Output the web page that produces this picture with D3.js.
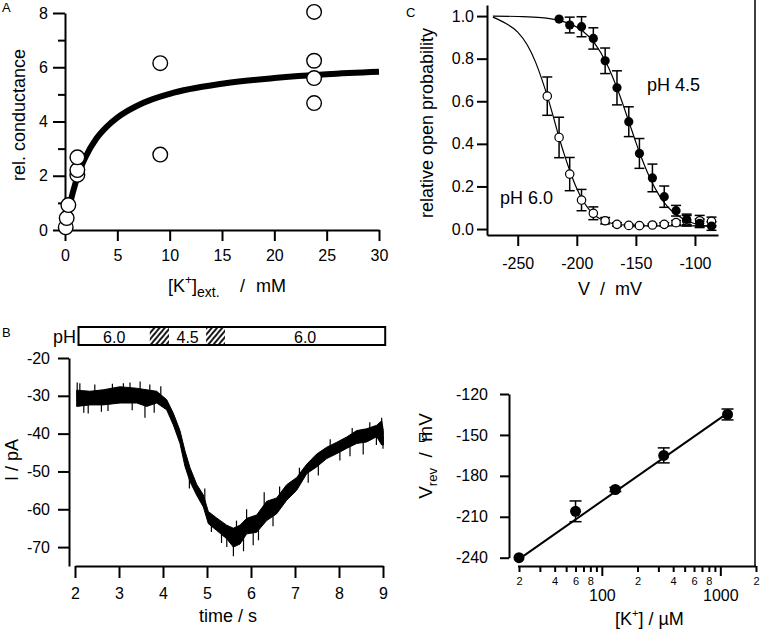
<!DOCTYPE html>
<html><head><meta charset="utf-8">
<script src="https://cdn.jsdelivr.net/npm/d3@7"></script>
<style>
body{margin:0;background:#fff;}
svg{display:block;font-family:"Liberation Sans",Arial,Helvetica,sans-serif;}
</style></head><body>
<svg id="fig" width="760" height="629"></svg>
<script>
// ---------- Panel A: relative conductance vs [K+]ext ----------
const aConc = [0.07, 0.16, 0.32, 1.18, 1.18, 1.18, 9.1, 9.1, 23.8, 23.8, 23.8, 23.8];
const aCond = [0.1, 0.44, 0.92, 2.03, 2.21, 2.68, 6.15, 2.78, 8.04, 6.24, 5.6, 4.68];
const aFitConc = [0, 0.25, 0.5, 1, 1.5, 2, 3, 4, 5, 7.5, 10, 15, 20, 25, 30];
const aFitCond = [0, 0.55, 1.0, 1.73, 2.29, 2.72, 3.37, 3.81, 4.14, 4.69, 5.02, 5.39, 5.60, 5.74, 5.83];
const aXTicks = [0, 5, 10, 15, 20, 25, 30];
const aYTicks = [0, 2, 4, 6, 8];
const aYMinor = [1, 3, 5, 7];

// ---------- Panel C: relative open probability vs V ----------
const cVolt = [-225, -215, -206, -196, -186, -176, -166, -156, -147, -136, -126, -116, -107, -96, -86];
const cP60  = [0.624, 0.43, 0.258, 0.136, 0.074, 0.039, 0.022, 0.017, 0.016, 0.019, 0.022, 0.03, 0.039, 0.039, 0.036];
const cE60  = [0.09, 0.095, 0.078, 0.05, 0.03, 0.015, 0.008, 0.005, 0.005, 0.005, 0.008, 0.01, 0.025, 0.025, 0.02];
const cP45  = [null, 0.986, 0.958, 0.95, 0.895, 0.79, 0.663, 0.504, 0.355, 0.24, 0.152, 0.086, 0.045, 0.027, 0.014];
const cE45  = [null, 0, 0.037, 0.047, 0.05, 0.06, 0.08, 0.07, 0.07, 0.065, 0.05, 0.025, 0.025, 0.02, 0.02];
const cFit60V = [-271, -260, -250, -242, -235, -230, -225, -220, -215, -210, -205, -200, -195, -190, -185, -180, -175, -170, -160, -150, -130, -110, -82];
const cFit60P = [0.995, 0.965, 0.925, 0.865, 0.785, 0.71, 0.625, 0.53, 0.43, 0.34, 0.26, 0.19, 0.135, 0.095, 0.066, 0.047, 0.034, 0.026, 0.019, 0.016, 0.015, 0.015, 0.015];
const cFit45V = [-271, -250, -230, -215, -205, -195, -185, -175, -165, -160, -155, -150, -145, -140, -135, -130, -125, -120, -110, -100, -90, -82];
const cFit45P = [1.0, 0.998, 0.993, 0.98, 0.962, 0.93, 0.873, 0.78, 0.648, 0.57, 0.489, 0.407, 0.331, 0.263, 0.204, 0.156, 0.117, 0.087, 0.047, 0.025, 0.013, 0.008];
const cXTicks = [-250, -200, -150, -100];
const cYTicks = [0, 0.2, 0.4, 0.6, 0.8, 1.0];

// ---------- Panel B: current trace ----------
const bTime  = [2.038, 2.341, 2.644, 3.023, 3.402, 3.629, 3.856, 4.083, 4.235, 4.386, 4.5, 4.614, 4.765, 4.917, 5.030, 5.220, 5.447, 5.598, 5.75, 5.902, 6.129, 6.356, 6.583, 6.811, 7.038, 7.265, 7.492, 7.720, 7.947, 8.174, 8.402, 8.629, 8.856, 8.970, 9.008];
const bUpper = [-28.5, -28.8, -28.4, -27.6, -28.0, -28.4, -28.8, -31.0, -34.6, -39.2, -44.6, -49.0, -53.4, -56.2, -60.6, -62.3, -64.2, -65.0, -64.2, -62.4, -61.5, -57.9, -57.0, -53.5, -51.6, -48.1, -45.4, -43.6, -42.3, -40.9, -39.2, -38.7, -37.8, -36.6, -39.2];
const bLower = [-32.8, -32.4, -32.4, -31.9, -31.9, -32.8, -31.9, -33.7, -37.7, -42.6, -48.7, -52.7, -56.3, -59.4, -63.8, -65.6, -67.8, -70.0, -69.2, -66.5, -66.1, -63.0, -61.2, -57.6, -55.0, -50.6, -48.8, -46.6, -45.3, -43.9, -42.6, -42.2, -40.8, -43.0, -43.0];
const bSpikeT = [2.05, 2.11, 2.2, 2.30, 2.45, 2.6, 2.75, 2.85, 3.1, 3.25, 3.3, 3.48, 3.59, 3.7, 3.8, 3.95, 4.6, 4.95, 5.1, 5.33, 5.45, 5.60, 5.67, 5.83, 5.9, 6.05, 6.17, 6.3, 6.5, 6.65, 7.1, 7.3, 7.53, 7.8, 8.02, 8.25, 8.3, 8.55, 8.7, 8.85, 8.97, 9.0];
const bSpikeI = [-26.5, -26.7, -34.5, -34.7, -27.0, -34.2, -34.0, -26.8, -26.7, -26.5, -33.8, -26.2, -35.8, -27.0, -34.5, -27.5, -54.5, -54.5, -66.0, -68.9, -70.0, -72.4, -63.0, -71.1, -60.0, -69.5, -68.2, -55.5, -64.5, -54.0, -49.0, -53.0, -51.1, -41.5, -47.1, -46.0, -38.5, -45.5, -37.0, -43.0, -35.8, -44.0];
const bSegStart = [2.08, 3.7, 4.14, 4.98, 5.41];
const bSegEnd   = [3.7, 4.14, 4.98, 5.41, 9.05];
const bSegLabel = ["6.0", "", "4.5", "", "6.0"];
const bSegHatch = [false, true, false, true, false];
const bXTicks = [2, 3, 4, 5, 6, 7, 8, 9];
const bYTicks = [-70, -60, -50, -40, -30, -20];

// ---------- Panel D: reversal potential vs [K+] ----------
const dConc = [20, 60, 130, 333, 1150];
const dVrev = [-240, -206, -190, -165, -135];
const dErr  = [0, 7.6, 1.5, 5.5, 4];
const dFitConc = [20, 1150];
const dFitV = [-241, -134];
const dXTicks = [20, 30, 40, 50, 60, 70, 80, 90, 100, 200, 300, 400, 500, 600, 700, 800, 900, 1000, 2000];
const dXLabels = ["2", "", "4", "", "6", "", "8", "", "100", "2", "", "4", "", "6", "", "8", "", "1000", "2"];
const dYTicks = [-240, -210, -180, -150, -120];

// =====================================================
const svg = d3.select("#fig");
const FT = 16, FTITLE = 18, FLET = 13;
const AX = 2;
const plain = (d) => String(d);   // hyphen-minus, like the original

function styleAxis(g, sw) {
  g.attr("font-family", null).attr("font-size", FT);
  g.select(".domain").attr("stroke", "#000").attr("stroke-width", sw);
  g.selectAll(".tick line").attr("stroke", "#000").attr("stroke-width", sw);
  g.selectAll(".tick text").attr("fill", "#000");
}

const defs = svg.append("defs");
const pat = defs.append("pattern").attr("id", "hatch").attr("patternUnits", "userSpaceOnUse")
  .attr("width", 4).attr("height", 4).attr("patternTransform", "rotate(40)");
pat.append("line").attr("x1", 1).attr("y1", 0).attr("x2", 1).attr("y2", 4).attr("stroke", "#000").attr("stroke-width", 1.8);

// ---------------- Panel A ----------------
{
  const x = d3.scaleLinear([0, 30], [65, 379]);
  const y = d3.scaleLinear([0, 8], [230, 13]);
  const g = svg.append("g");
  const ya = g.append("g").attr("transform", "translate(65,0)")
    .call(d3.axisLeft(y).tickValues(aYTicks).tickFormat(plain).tickSize(12).tickPadding(5).tickSizeOuter(0));
  styleAxis(ya, AX);
  const ym = g.append("g").attr("transform", "translate(65,0)")
    .call(d3.axisLeft(y).tickValues(aYMinor).tickSize(7).tickFormat("").tickSizeOuter(0));
  styleAxis(ym, AX); ym.select(".domain").remove();
  const xa = g.append("g").attr("transform", "translate(0,230)")
    .call(d3.axisBottom(x).tickValues(aXTicks).tickFormat(plain).tickSize(11).tickPadding(9).tickSizeOuter(0));
  styleAxis(xa, AX);

  const line = d3.line().x((d, i) => x(aFitConc[i])).y((d, i) => y(aFitCond[i])).curve(d3.curveMonotoneX);
  g.append("path").attr("d", line(aFitConc)).attr("fill", "none").attr("stroke", "#000").attr("stroke-width", 6);
  g.selectAll("circle.a").data(aConc).join("circle")
    .attr("cx", (d) => x(d)).attr("cy", (d, i) => y(aCond[i])).attr("r", 7.3)
    .attr("fill", "#fff").attr("stroke", "#000").attr("stroke-width", 1.4);

  g.append("text").attr("x", 2).attr("y", 12).attr("font-size", FLET).text("A");
  g.append("text").attr("transform", "translate(25,115) rotate(-90)").attr("text-anchor", "middle")
    .attr("font-size", FTITLE).text("rel. conductance");
  const t = g.append("text").attr("x", 168).attr("y", 292).attr("font-size", FTITLE);
  t.append("tspan").text("[K");
  t.append("tspan").attr("font-size", 12).attr("dy", -8).text("+");
  t.append("tspan").attr("dy", 8).text("]");
  t.append("tspan").attr("font-size", 14).attr("dy", 5).text("ext.");
  g.append("text").attr("x", 240).attr("y", 292).attr("font-size", FTITLE).text("/");
  g.append("text").attr("x", 256).attr("y", 292).attr("font-size", FTITLE).text("mM");
}

// ---------------- Panel C ----------------
{
  const x = d3.scaleLinear([-276, -80.5], [487, 718]);
  const y = d3.scaleLinear([-0.028, 1.052], [235, 5]);
  const g = svg.append("g");
  const ya = g.append("g").attr("transform", "translate(487,0)")
    .call(d3.axisLeft(y).tickValues(cYTicks).tickFormat(d3.format(".1f")).tickSize(10).tickPadding(3).tickSizeOuter(0));
  styleAxis(ya, AX);
  const xa = g.append("g").attr("transform", "translate(0,235)")
    .call(d3.axisBottom(x).tickValues(cXTicks).tickFormat(plain).tickSize(11).tickPadding(12).tickSizeOuter(0));
  styleAxis(xa, AX);

  const l60 = d3.line().x((d, i) => x(cFit60V[i])).y((d, i) => y(cFit60P[i])).curve(d3.curveMonotoneX);
  const l45 = d3.line().x((d, i) => x(cFit45V[i])).y((d, i) => y(cFit45P[i])).curve(d3.curveMonotoneX);
  g.append("path").attr("d", l60(cFit60V)).attr("fill", "none").attr("stroke", "#000").attr("stroke-width", 1.2);
  g.append("path").attr("d", l45(cFit45V)).attr("fill", "none").attr("stroke", "#000").attr("stroke-width", 1.2);

  function errbars(P, E) {
    cVolt.forEach((v, i) => {
      if (P[i] == null || !E[i]) return;
      const cx = x(v), y1 = y(P[i] + E[i]), y2 = y(P[i] - E[i]);
      g.append("line").attr("x1", cx).attr("x2", cx).attr("y1", y1).attr("y2", y2).attr("stroke", "#000").attr("stroke-width", 1.5);
      g.append("line").attr("x1", cx - 5).attr("x2", cx + 5).attr("y1", y1).attr("y2", y1).attr("stroke", "#000").attr("stroke-width", 1.5);
      g.append("line").attr("x1", cx - 5).attr("x2", cx + 5).attr("y1", y2).attr("y2", y2).attr("stroke", "#000").attr("stroke-width", 1.5);
    });
  }
  errbars(cP60, cE60);
  errbars(cP45, cE45);
  g.selectAll("circle.o").data(cVolt).join("circle").attr("class", "o")
    .attr("cx", (d) => x(d)).attr("cy", (d, i) => y(cP60[i])).attr("r", 4.2)
    .attr("fill", "#fff").attr("stroke", "#000").attr("stroke-width", 1.2);
  g.selectAll("circle.f").data(cVolt.filter((d, i) => cP45[i] != null)).join("circle").attr("class", "f")
    .attr("cx", (d) => x(d)).attr("cy", (d) => y(cP45[cVolt.indexOf(d)])).attr("r", 4.6)
    .attr("fill", "#000");

  g.append("text").attr("x", 406).attr("y", 17).attr("font-size", FLET).text("C");
  g.append("text").attr("transform", "translate(433,123) rotate(-90)").attr("text-anchor", "middle")
    .attr("font-size", FTITLE).text("relative open probability");
  g.append("text").attr("x", 610).attr("y", 295).attr("text-anchor", "middle").attr("font-size", FTITLE)
    .attr("style", "white-space:pre").text("V  /  mV");
  g.append("text").attr("x", 647).attr("y", 91).attr("font-size", FTITLE).text("pH 4.5");
  g.append("text").attr("x", 500).attr("y", 204).attr("font-size", FTITLE).text("pH 6.0");
}

// ---------------- Panel B ----------------
{
  const x = d3.scaleLinear([2, 9], [75, 383]);
  const y = d3.scaleLinear([-75, -20], [566, 358]);
  const g = svg.append("g");
  const ya = g.append("g").attr("transform", "translate(69,0)")
    .call(d3.axisLeft(y).tickValues(bYTicks).tickFormat(plain).tickSize(11).tickPadding(8).tickSizeOuter(0));
  styleAxis(ya, AX);
  const xa = g.append("g").attr("transform", "translate(0,566)")
    .call(d3.axisBottom(x).tickValues(bXTicks).tickFormat(plain).tickSize(12).tickPadding(10).tickSizeOuter(0));
  styleAxis(xa, AX);

  const area = d3.area().x((d, i) => x(bTime[i])).y0((d, i) => y(bLower[i])).y1((d, i) => y(bUpper[i]));
  g.append("path").attr("d", area(bTime)).attr("fill", "#000").attr("stroke", "#000").attr("stroke-width", 1);
  const interp = (arr, t) => {
    const j = Math.max(1, Math.min(bTime.length - 1, d3.bisectLeft(bTime, t)));
    const f = (t - bTime[j - 1]) / (bTime[j] - bTime[j - 1]);
    return arr[j - 1] + f * (arr[j] - arr[j - 1]);
  };
  bSpikeT.forEach((t, i) => {
    const mid = (interp(bUpper, t) + interp(bLower, t)) / 2;
    g.append("line").attr("x1", x(t)).attr("x2", x(t)).attr("y1", y(mid)).attr("y2", y(bSpikeI[i]))
      .attr("stroke", "#000").attr("stroke-width", 1.2);
  });

  // pH bar
  const by = 327, bh = 18;
  bSegStart.forEach((s, i) => {
    g.append("rect").attr("x", x(s)).attr("y", by).attr("width", x(bSegEnd[i]) - x(s)).attr("height", bh)
      .attr("fill", bSegHatch[i] ? "url(#hatch)" : "#fff");
    if (bSegLabel[i]) g.append("text").attr("x", (x(s) + x(bSegEnd[i])) / 2).attr("y", by + 15.5)
      .attr("text-anchor", "middle").attr("font-size", 16).text(bSegLabel[i]);
  });
  g.append("rect").attr("x", x(bSegStart[0])).attr("y", by)
    .attr("width", x(bSegEnd[bSegEnd.length - 1]) - x(bSegStart[0])).attr("height", bh)
    .attr("fill", "none").attr("stroke", "#000").attr("stroke-width", 2);
  g.append("text").attr("x", 53).attr("y", 343).attr("font-size", FTITLE).text("pH");

  g.append("text").attr("x", 2).attr("y", 337).attr("font-size", FLET).text("B");
  g.append("text").attr("transform", "translate(18,460) rotate(-90)").attr("text-anchor", "middle")
    .attr("font-size", FTITLE).text("I / pA");
  g.append("text").attr("x", 228).attr("y", 622).attr("text-anchor", "middle").attr("font-size", FTITLE).text("time / s");
}

// ---------------- Panel D ----------------
{
  const x = d3.scaleLog([20, 2000], [519, 756]);
  const y = d3.scaleLinear([-240, -120], [557.7, 394]);
  const g = svg.append("g");
  const ya = g.append("g").attr("transform", "translate(509,0)")
    .call(d3.axisLeft(y).tickValues(dYTicks).tickFormat(plain).tickSize(9).tickPadding(12).tickSizeOuter(0));
  styleAxis(ya, AX);
  const xa = g.append("g").attr("transform", "translate(0,566)")
    .call(d3.axisBottom(x).tickValues(dXTicks).tickFormat((d, i) => dXLabels[i]).tickSize(6).tickPadding(6).tickSizeOuter(0));
  styleAxis(xa, AX);
  xa.select(".domain").attr("d", "M518,0.5H756");
  xa.selectAll(".tick").each(function (d) {
    const tk = d3.select(this);
    const major = (d === 100 || d === 1000);
    tk.select("line").attr("y2", major ? 10 : 6);
    tk.select("text").attr("font-size", major ? 16 : 11).attr("y", major ? 24 : 11);
  });

  g.append("line").attr("x1", x(dFitConc[0])).attr("y1", y(dFitV[0])).attr("x2", x(dFitConc[1])).attr("y2", y(dFitV[1]))
    .attr("stroke", "#000").attr("stroke-width", 2);
  dConc.forEach((c, i) => {
    if (!dErr[i]) return;
    const cx = x(c), y1 = y(dVrev[i] + dErr[i]), y2 = y(dVrev[i] - dErr[i]);
    g.append("line").attr("x1", cx).attr("x2", cx).attr("y1", y1).attr("y2", y2).attr("stroke", "#000").attr("stroke-width", 1.5);
    g.append("line").attr("x1", cx - 6).attr("x2", cx + 6).attr("y1", y1).attr("y2", y1).attr("stroke", "#000").attr("stroke-width", 1.5);
    g.append("line").attr("x1", cx - 6).attr("x2", cx + 6).attr("y1", y2).attr("y2", y2).attr("stroke", "#000").attr("stroke-width", 1.5);
  });
  g.selectAll("circle.d").data(dConc).join("circle")
    .attr("cx", (d) => x(d)).attr("cy", (d, i) => y(dVrev[i])).attr("r", 5.5).attr("fill", "#000");

  g.append("text").attr("x", 418).attr("y", 442).attr("font-size", FLET).text("D");
  const yt = g.append("text").attr("transform", "translate(432,456) rotate(-90)").attr("text-anchor", "middle")
    .attr("font-size", 19).attr("style", "white-space:pre");
  yt.append("tspan").text("V");
  yt.append("tspan").attr("font-size", 13).attr("dy", 5).text("rev");
  yt.append("tspan").attr("dy", -5).text("  /  mV");
  const xt = g.append("text").attr("x", 615).attr("y", 625).attr("font-size", FTITLE);
  xt.append("tspan").text("[K");
  xt.append("tspan").attr("font-size", 11).attr("dy", -8).text("+");
  xt.append("tspan").attr("dy", 8).text("] / µM");
}

// right edge rule of the figure
svg.append("line").attr("x1", 755).attr("x2", 755).attr("y1", 0).attr("y2", 566).attr("stroke", "#000").attr("stroke-width", 1.5);
</script>
</body></html>
